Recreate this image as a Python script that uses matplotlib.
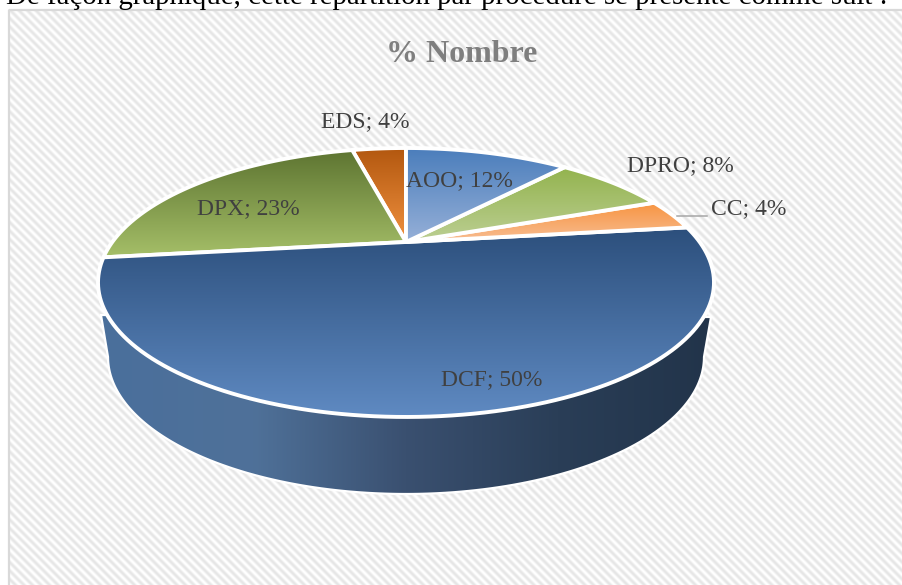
import numpy as np
import matplotlib
matplotlib.use("Agg")
import matplotlib.pyplot as plt
from matplotlib.colors import LinearSegmentedColormap
from matplotlib.patches import Polygon, Rectangle

# --- DATA ---
categories = ["AOO", "DPRO", "CC", "DCF", "DPX", "EDS"]
shares = [11.5, 7.7, 3.8, 50.0, 23.1, 3.8]
share_labels = ["12%", "8%", "4%", "50%", "23%", "4%"]

# --- STYLE ---
TOP_COLORS = ["#4a7dbb", "#93b34e", "#f79440", "#2c4f7c", "#5d7431", "#b2570f"]
BOTTOM_COLORS = ["#96b0d8", "#bccf93", "#f8bd93", "#5f8ac2", "#a5bf68", "#f0913f"]
LABEL_POS = [(459, 181), (680, 166), (749, 209), (492, 380), (248, 209), (365, 122)]
TEXT_COLOR = "#404040"
TITLE_COLOR = "#7f7f7f"
BORDER_COLOR = "#d9d9d9"
WALL_COLORS = ["#4a6f9c", "#4f7199", "#3a5070", "#2a3e57", "#22344a"]

W, H = 903, 585
# projected disc: apex of the pie and perspective terms
CX, CY = 406, 242
PROJ_A, PROJ_B, PROJ_K = 293.7, 122.3, 0.301
font = "Liberation Serif"


def project(theta):
    # theta clockwise from 12 o'clock, radians
    u, v = np.sin(theta), np.cos(theta)
    den = 1 + PROJ_K * v
    return CX + PROJ_A * u / den, CY - PROJ_B * v / den


def gradient_fill(ax, poly, c1, c2, zorder):
    xs, ys = poly[:, 0], poly[:, 1]
    grad = np.linspace(0, 1, 256)[:, None]
    cmap = LinearSegmentedColormap.from_list("g", [c1, c2])
    im = ax.imshow(grad, cmap=cmap, aspect="auto", zorder=zorder, origin="upper",
                   extent=(xs.min(), xs.max(), ys.max(), ys.min()))
    patch = Polygon(poly, closed=True, transform=ax.transData, facecolor="none",
                    edgecolor="white", linewidth=2.8, zorder=zorder + 0.1, joinstyle="round")
    ax.add_patch(patch)
    im.set_clip_path(patch)


def draw_background(ax):
    yy, xx = np.mgrid[0:H, 0:W]
    stripes = 0.5 + 0.5 * np.cos(2 * np.pi * (xx - yy) / 8.5)
    ax.imshow(stripes, cmap=LinearSegmentedColormap.from_list("s", ["#ffffff", "#e6e6e6"]),
              extent=(0, W, H, 0), aspect="auto", zorder=1, interpolation="bilinear")
    ax.add_patch(Rectangle((0, 0), W, 9, facecolor="white", edgecolor="none", zorder=2))
    ax.add_patch(Rectangle((0, 0), 8, H, facecolor="white", edgecolor="none", zorder=2))
    ax.add_patch(Rectangle((9, 10), W, H, facecolor="none", edgecolor=BORDER_COLOR,
                           linewidth=1.6, zorder=2.5))


def draw_wall(ax):
    t = np.linspace(np.pi, 0, 200)
    low_x = 406 + 298 * np.cos(t)
    low_y = 357 + 137 * np.sin(t)
    poly = np.vstack([[(101, 315)], np.column_stack([low_x, low_y]), [(711, 317)]])
    cmap = LinearSegmentedColormap.from_list("w", WALL_COLORS)
    grad = np.linspace(0, 1, 256)[None, :]
    im = ax.imshow(grad, cmap=cmap, aspect="auto", zorder=3,
                   extent=(poly[:, 0].min(), poly[:, 0].max(), poly[:, 1].max(), poly[:, 1].min()))
    patch = Polygon(poly, closed=True, facecolor="none", edgecolor="white",
                    linewidth=1.6, zorder=3.1)
    ax.add_patch(patch)
    im.set_clip_path(patch)


def draw_slices(ax):
    total = sum(shares)
    edges = 2 * np.pi * np.cumsum([0] + shares) / total
    # biggest slice first so that the thin ones keep their white edge on top
    for i in np.argsort(shares)[::-1]:
        t = np.linspace(edges[i], edges[i + 1], 120)
        x, y = project(t)
        poly = np.vstack([[(CX, CY)], np.column_stack([x, y])])
        gradient_fill(ax, poly, TOP_COLORS[i], BOTTOM_COLORS[i], zorder=4 + 0.2 * (5 - i))


def main():
    fig = plt.figure(figsize=(W / 100, H / 100), dpi=100, facecolor="white")
    ax = fig.add_axes([0, 0, 1, 1])
    ax.set_axis_off()

    draw_background(ax)
    draw_wall(ax)
    draw_slices(ax)

    ax.set_xlim(0, W)
    ax.set_ylim(H, 0)

    ax.text(6, 4, "De façon graphique, cette répartition par procédure se présente comme suit :",
            fontsize=20.8, family=font, color="black", ha="left", va="baseline", zorder=10)
    ax.text(462, 54, "% Nombre", fontsize=23, family=font, fontweight="bold",
            color=TITLE_COLOR, ha="center", va="center", zorder=10)

    for name, share, (x, y) in zip(categories, share_labels, LABEL_POS):
        ax.text(x, y, f"{name}; {share}", fontsize=17, family=font, color=TEXT_COLOR,
                ha="center", va="center", zorder=10)

    # leader line for CC
    ax.plot([677, 707], [216, 216], color="#a6a6a6", linewidth=1.1, zorder=9)

    fig.savefig("out.png", dpi=100, facecolor="white")
    plt.close(fig)


if __name__ == "__main__":
    main()
